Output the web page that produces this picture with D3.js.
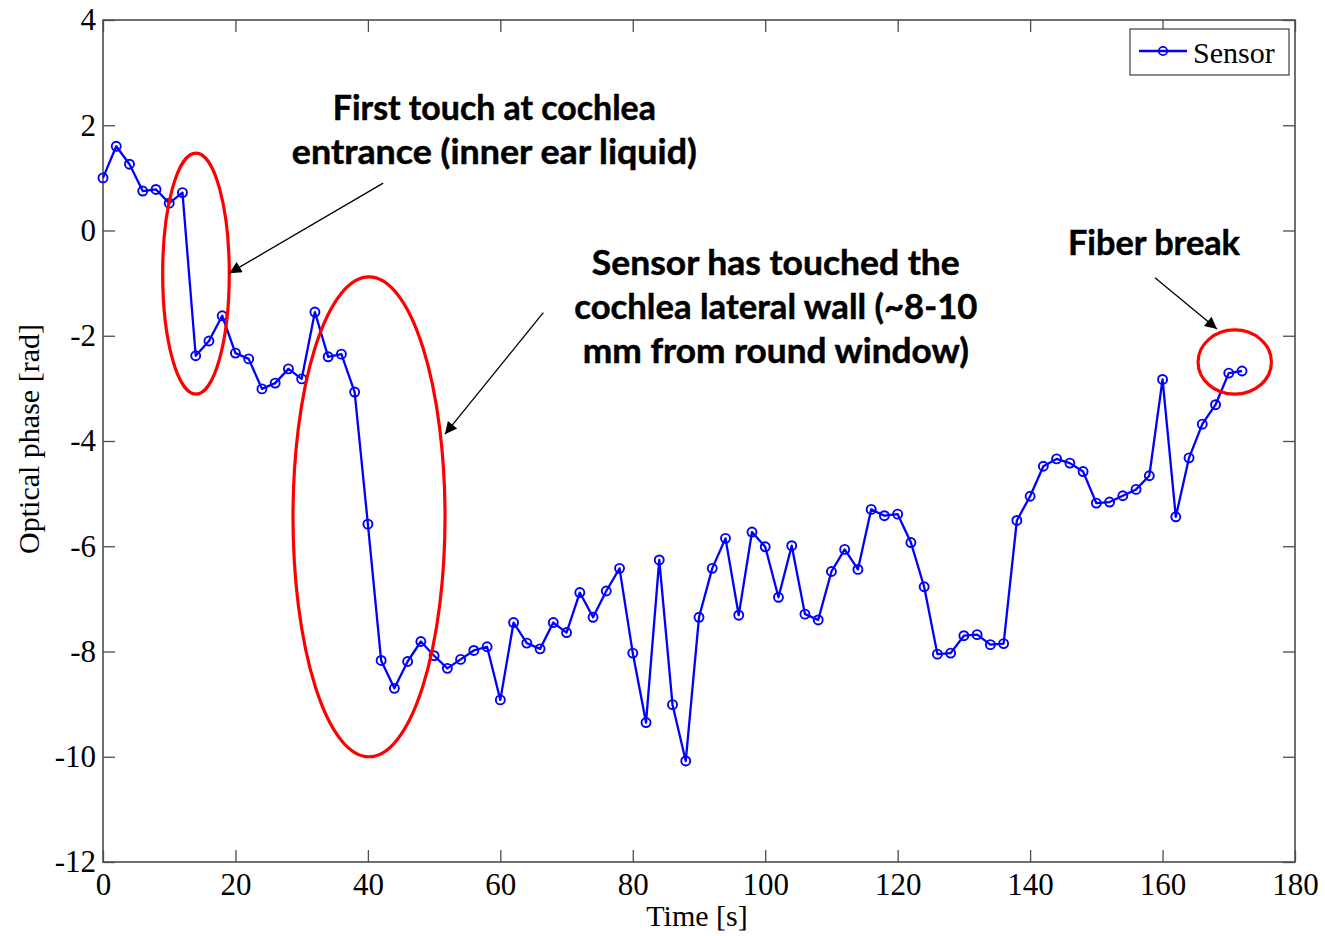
<!DOCTYPE html>
<html>
<head>
<meta charset="utf-8">
<script src="https://cdn.jsdelivr.net/npm/d3@7"></script>
<style>
  html, body { margin: 0; padding: 0; background: #fff; }
  svg { display: block; }
</style>
</head>
<body>
<svg id="chart" width="1325" height="936"></svg>
<script>
// ---------------- data ----------------
const times = [0,2,4,6,8,10,12,14,16,18,20,22,24,26,28,30,32,34,36,38,40,42,44,46,48,50,52,54,56,58,
  60,62,64,66,68,70,72,74,76,78,80,82,84,86,88,90,92,94,96,98,100,102,104,106,108,110,112,114,116,118,
  120,122,124,126,128,130,132,134,136,138,140,142,144,146,148,150,152,154,156,158,160,162,164,166,168,170,172];
const phase = [1.00,1.60,1.26,0.75,0.78,0.52,0.72,-2.38,-2.10,-1.62,-2.33,-2.44,-3.01,-2.90,-2.63,-2.82,
  -1.55,-2.40,-2.35,-3.07,-5.58,-8.17,-8.70,-8.19,-7.81,-8.08,-8.32,-8.15,-7.98,-7.91,
  -8.92,-7.45,-7.84,-7.95,-7.45,-7.64,-6.88,-7.35,-6.85,-6.42,-8.03,-9.35,-6.26,-9.01,-10.08,
  -7.35,-6.42,-5.85,-7.31,-5.73,-6.01,-6.97,-5.99,-7.29,-7.40,-6.48,-6.06,-6.44,-5.30,-5.42,
  -5.39,-5.93,-6.77,-8.05,-8.03,-7.70,-7.68,-7.87,-7.85,-5.51,-5.05,-4.48,-4.34,-4.42,-4.58,
  -5.18,-5.16,-5.04,-4.92,-4.66,-2.83,-5.44,-4.32,-3.68,-3.31,-2.71,-2.67];
const xTicks = [0,20,40,60,80,100,120,140,160,180];
const yTicks = [4,2,0,-2,-4,-6,-8,-10,-12];
const seriesName = "Sensor";
const xLabel = "Time [s]";
const yLabel = "Optical phase [rad]";
// annotations (in data units)
const noteTexts = [
  ["First touch at cochlea", "entrance (inner ear liquid)"],
  ["Sensor has touched the", "cochlea lateral wall (~8-10", "mm from round window)"],
  ["Fiber break"]
];
const noteX = [59.1, 101.6, 158.7];
const noteY = [2.10, -0.84, -0.46];
const noteWidths = [[323, 405], [368, 403, 386], [172]];
const ellCx = [14.04, 40.17, 170.9];
const ellCy = [-0.82, -5.44, -2.50];
const ellRx = [5.03, 11.48, 5.54];
const ellRy = [2.29, 4.56, 0.61];
const arrowFrom = [[42.31, 0.90], [66.49, -1.56], [158.86, -0.90]];
const arrowTo = [[19.07, -0.81], [51.64, -3.87], [168.22, -1.87]];

// ---------------- layout ----------------
const L = 103, R = 1295, T = 20, B = 862;
const svg = d3.select("#chart");
const x = d3.scaleLinear().domain([0, 180]).range([L, R]);
const y = d3.scaleLinear().domain([-12, 4]).range([B, T]);
const axisColor = "#4d4d4d";
const serif = "'Liberation Serif', 'Times New Roman', serif";

svg.append("rect").attr("width", 1325).attr("height", 936).attr("fill", "#fff");

// axes
const fmt = d => String(d);
const gB = svg.append("g").attr("transform", `translate(0,${B})`)
  .call(d3.axisBottom(x).tickValues(xTicks).tickSizeInner(-12).tickSizeOuter(0).tickPadding(11).tickFormat(fmt));
const gL = svg.append("g").attr("transform", `translate(${L},0)`)
  .call(d3.axisLeft(y).tickValues(yTicks).tickSizeInner(-12).tickSizeOuter(0).tickPadding(7).tickFormat(fmt));
const gT = svg.append("g").attr("transform", `translate(0,${T})`)
  .call(d3.axisTop(x).tickValues(xTicks).tickSizeInner(-12).tickSizeOuter(0).tickFormat(""));
const gR = svg.append("g").attr("transform", `translate(${R},0)`)
  .call(d3.axisRight(y).tickValues(yTicks).tickSizeInner(-12).tickSizeOuter(0).tickFormat(""));
[gB, gL, gT, gR].forEach(g => {
  g.select(".domain").remove();
  g.selectAll(".tick line").attr("stroke", axisColor).attr("stroke-width", 1.3);
  g.selectAll(".tick text").attr("fill", "#000").style("font-family", serif).style("font-size", "31px");
});
svg.append("rect").attr("x", L).attr("y", T).attr("width", R - L).attr("height", B - T)
  .attr("fill", "none").attr("stroke", axisColor).attr("stroke-width", 1.6);

// axis labels
svg.append("text").attr("x", 697).attr("y", 926).attr("text-anchor", "middle")
  .style("font-family", serif).style("font-size", "30px").text(xLabel);
svg.append("text").attr("transform", `translate(39,439) rotate(-90)`)
  .attr("text-anchor", "middle")
  .style("font-family", serif).style("font-size", "30px").text(yLabel);

// series
const pts = times.map((t, i) => [t, phase[i]]);
const line = d3.line().x(d => x(d[0])).y(d => y(d[1]));
svg.append("path").datum(pts).attr("d", line)
  .attr("fill", "none").attr("stroke", "#0000ff").attr("stroke-width", 2.3).attr("stroke-linejoin", "round");
svg.append("g").selectAll("circle").data(pts).join("circle")
  .attr("cx", d => x(d[0])).attr("cy", d => y(d[1])).attr("r", 4.5)
  .attr("fill", "none").attr("stroke", "#0000ff").attr("stroke-width", 1.9);

// ellipses
svg.append("g").selectAll("ellipse").data(ellCx).join("ellipse")
  .attr("cx", (d, i) => x(d)).attr("cy", (d, i) => y(ellCy[i]))
  .attr("rx", (d, i) => x(ellRx[i]) - x(0)).attr("ry", (d, i) => y(0) - y(ellRy[i]))
  .attr("fill", "none").attr("stroke", "#ff0000").attr("stroke-width", 3.2);

// arrows
const defs = svg.append("defs");
defs.append("marker").attr("id", "ah").attr("viewBox", "0 0 10 10").attr("refX", 10).attr("refY", 5)
  .attr("markerWidth", 18).attr("markerHeight", 12).attr("markerUnits", "userSpaceOnUse").attr("orient", "auto")
  .append("path").attr("d", "M0,0 L10,5 L0,10 z").attr("fill", "#000");
svg.append("g").selectAll("line").data(arrowFrom).join("line")
  .attr("x1", d => x(d[0])).attr("y1", d => y(d[1]))
  .attr("x2", (d, i) => x(arrowTo[i][0])).attr("y2", (d, i) => y(arrowTo[i][1]))
  .attr("stroke", "#000").attr("stroke-width", 1.3).attr("marker-end", "url(#ah)");

// annotation texts
const lineGap = 44;
noteTexts.forEach((lines, i) => {
  lines.forEach((s, j) => {
    svg.append("text").attr("x", x(noteX[i])).attr("y", y(noteY[i]) + j * lineGap)
      .attr("text-anchor", "middle")
      .attr("textLength", noteWidths[i][j]).attr("lengthAdjust", "spacingAndGlyphs")
      .style("font-family", "Lato, 'Open Sans', sans-serif").style("font-weight", "bold")
      .style("font-size", "35px").attr("fill", "#000")
      .attr("stroke", "#000").attr("stroke-width", 0.5).text(s);
  });
});

// legend
const lg = svg.append("g");
lg.append("rect").attr("x", 1130).attr("y", 29).attr("width", 159).attr("height", 46)
  .attr("fill", "#fff").attr("stroke", axisColor).attr("stroke-width", 1.3);
lg.append("line").attr("x1", 1139).attr("x2", 1187).attr("y1", 51).attr("y2", 51)
  .attr("stroke", "#0000ff").attr("stroke-width", 2.3);
lg.append("circle").attr("cx", 1163).attr("cy", 51).attr("r", 4.2)
  .attr("fill", "none").attr("stroke", "#0000ff").attr("stroke-width", 1.8);
lg.append("text").attr("x", 1193).attr("y", 63).style("font-family", serif).style("font-size", "30px")
  .text(seriesName);
</script>
</body>
</html>
